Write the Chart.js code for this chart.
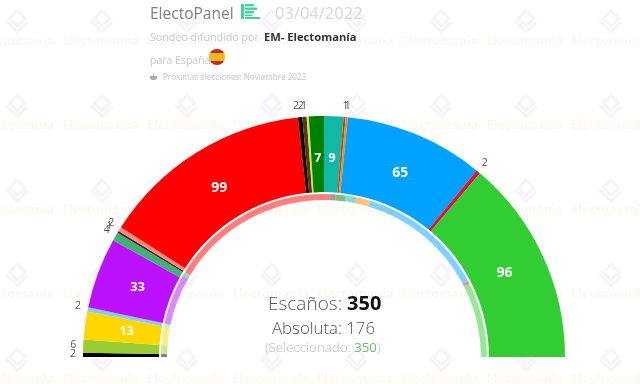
<!DOCTYPE html>
<html lang="es"><head><meta charset="utf-8">
<script src="https://cdn.jsdelivr.net/npm/chart.js@4"></script>
<style>
html,body{margin:0;padding:0;background:#fff;width:640px;height:384px;overflow:hidden;font-family:"Open Sans",sans-serif}
#wrap{position:relative;width:640px;height:384px}
canvas{position:absolute;left:0;top:0}
.t{position:absolute;white-space:nowrap;line-height:1}
</style></head><body>
<div id="wrap">
<canvas id="c" width="640" height="384"></canvas>
<div class="t" style="left:150px;top:6px;font-size:15.5px;color:#808080">ElectoPanel</div>
<svg style="position:absolute;left:241px;top:4px" width="20" height="16" viewBox="0 0 20 16"><g fill="#3ed598"><rect x="0" y="0" width="3" height="15"/><rect x="4" y="0" width="9" height="2.4"/><rect x="4" y="3.5" width="12" height="2.4"/><rect x="4" y="7" width="9" height="2.4"/><rect x="4" y="10.5" width="7" height="1.6"/><rect x="4" y="13" width="15" height="2"/></g></svg>
<div class="t" style="left:275px;top:5px;font-size:16.5px;color:#d6d6d6">03/04/2022</div>
<div class="t" style="left:150px;top:32px;font-size:10.7px;color:#c8c8c8">Sondeo difundido por</div>
<div class="t" style="left:264px;top:31px;font-size:11.2px;font-weight:700;color:#333">EM- Electomanía</div>
<div class="t" style="left:150px;top:55px;font-size:10.5px;color:#c8c8c8">para España</div>
<div style="position:absolute;left:217px;top:49px;width:16px;height:16px;margin-left:-8px;border-radius:50%;background:linear-gradient(#c8281e 0 26%,#f4b81c 26% 74%,#c8281e 74%);box-shadow:0 0 2px #ccc"></div>
<svg style="position:absolute;left:149px;top:73px" width="9" height="8" viewBox="0 0 9 8"><path d="M1 3h7v2a3 3 0 0 1-3 2H4a3 3 0 0 1-3-2z" fill="#aaa"/><rect x="4" y="0.5" width="1" height="2.5" fill="#bbb"/></svg>
<div class="t" style="left:163px;top:73px;font-size:8.1px;color:#c4c4c4">Próximas elecciones: Noviembre 2023</div>
<div class="t" style="left:268px;top:293px;font-size:19px;font-weight:300;color:#555">Escaños: <span style="font-weight:700;color:#111;font-size:20px">350</span></div>
<div class="t" style="left:272px;top:320px;font-size:16.8px;font-weight:300;color:#555">Absoluta: 176</div>
<div class="t" style="left:265px;top:341px;font-size:13.3px;font-weight:300;color:#bdbdbd">(Seleccionado: <span style="color:#6abf6e;font-weight:400">350</span>)</div>
</div>
<script>
const seatLabels = ["2","6","13","2","33","4","1","2","99","2","2","1","7","9","1","1","65","2","96"];
const seats      = [2,6,13,2,33,4,1,2,99,2,2,1,7,9,1,1,65,2,96];
const seatColors = ["#000000","#9acd32","#ffd700","#87ceeb","#bb11ff","#3cb371","#4b1a4b","#fa8f70","#ff0000","#000000","#6b2a1a","#adff2f","#008000","#12b8a6","#a0522d","#ff8c00","#00a2ff","#dc143c","#32cd32"];
const prevSeats  = [2,6,13,2,35,3,118,4,7,7,10,89,2,52];
const prevColors = ["#000000","#9acd32","#ffd700","#87ceeb","#bb11ff","#3cb371","#ff0000","#5a3030","#008000","#12b8a6","#ff8c00","#00a2ff","#dc143c","#32cd32"];
const watermarkText = "Electomania";

const backdrop = {
  id:"backdrop",
  beforeDraw(ch){
    const x=ch.ctx; x.save();
    for(let r=0;r<5;r++)for(let k=0;k<8;k++){
      const cx=16+k*84.8, cy=22+r*84.6;
      x.fillStyle="rgba(255,170,110,.11)";
      x.font="700 12.4px 'Open Sans'"; x.textAlign="center"; x.textBaseline="middle";
      x.fillText(watermarkText,cx,cy+19);
      x.save(); x.translate(cx,cy); x.rotate(Math.PI/4);
      x.strokeStyle="rgba(130,90,190,.07)"; x.lineWidth=3;
      x.strokeRect(-7,-9,11,11);
      x.beginPath(); x.moveTo(-8,6); x.lineTo(8,6); x.lineTo(8,-8); x.stroke();
      x.restore();
    }
    x.restore();
  }
};
const labels = {
  id:"labels",
  afterDatasetsDraw(ch){
    const x=ch.ctx, arcs=ch.getDatasetMeta(0).data; x.save();
    x.textAlign="center"; x.textBaseline="middle";
    arcs.forEach((a,i)=>{
      const mid=(a.startAngle+a.endAngle)/2;
      if(seats[i]>=7){
        const R=(a.outerRadius+a.innerRadius)/2-4;
        x.font="700 "+(seats[i]>=60?14:(seats[i]>=30?13:12.5))+"px 'Open Sans'"; x.fillStyle="#fff";
        x.fillText(seatLabels[i],a.x+R*Math.cos(mid),a.y+R*Math.sin(mid));
      } else {
        const R=a.outerRadius+10;
        const nearTopLeft=Math.cos(mid)<0&&Math.cos(mid)>-0.3;
        x.font="400 10.5px 'Open Sans'"; x.fillStyle="#555";
        x.fillText(seatLabels[i],a.x+R*Math.cos(mid)-(nearTopLeft?3:0),a.y+R*Math.sin(mid)-1);
      }
    });
    x.restore();
  }
};
new Chart(document.getElementById("c"),{
  type:"doughnut",
  data:{datasets:[
    {data:seats,backgroundColor:seatColors,borderWidth:0,weight:76},
    {data:[350],backgroundColor:["rgba(0,0,0,0)"],borderWidth:0,weight:2},
    {data:prevSeats,backgroundColor:prevColors.map(c=>c+"80"),borderWidth:0,weight:6}
  ]},
  options:{
    responsive:false,animation:false,rotation:-90,circumference:180,cutout:"65.1%",
    layout:{padding:{top:116,bottom:27,left:83,right:75}},
    plugins:{legend:{display:false},tooltip:{enabled:false},title:{display:false}},
    events:[]
  },
  plugins:[backdrop,labels]
});
</script>
</body></html>
